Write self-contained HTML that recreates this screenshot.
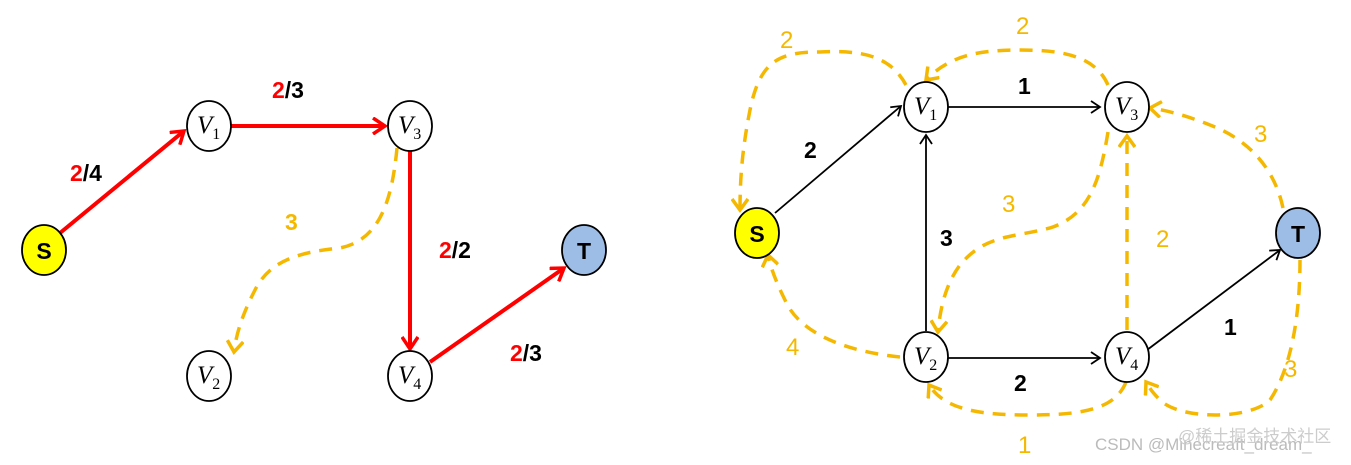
<!DOCTYPE html><html><head><meta charset="utf-8"><style>body{margin:0;background:#fff}svg{display:block}</style></head><body>
<svg width="1351" height="465" viewBox="0 0 1351 465" xmlns="http://www.w3.org/2000/svg">
<defs>
<marker id="ar" markerWidth="16" markerHeight="18" refX="13" refY="9" orient="auto" markerUnits="userSpaceOnUse"><path d="M1,1 L13,9 L1,17" fill="none" stroke="#f00" stroke-width="3.5"/></marker>
<marker id="ab" markerWidth="12" markerHeight="14" refX="10" refY="7" orient="auto" markerUnits="userSpaceOnUse"><path d="M1,1 L10,7 L1,13" fill="none" stroke="#000" stroke-width="1.8"/></marker>
<marker id="ay" markerWidth="16" markerHeight="18" refX="12" refY="9" orient="auto" markerUnits="userSpaceOnUse"><path d="M1,1 L12,9 L1,17" fill="none" stroke="#f5b800" stroke-width="3.5"/></marker>
</defs>
<g font-family="Liberation Sans, sans-serif" font-weight="bold" font-size="23">
<g stroke="#f00" stroke-width="4" fill="none">
<line x1="60" y1="233" x2="184" y2="131" marker-end="url(#ar)"/>
<line x1="231" y1="126" x2="385" y2="126" marker-end="url(#ar)"/>
<line x1="410" y1="151" x2="410" y2="349" marker-end="url(#ar)"/>
<line x1="430" y1="362" x2="564" y2="268" marker-end="url(#ar)"/>
</g>
<path d="M397,148 C392,200 380,240 340,248 C300,252 270,260 255,290 C242,315 236,335 234,352" stroke="#f5b800" stroke-width="3.5" fill="none" stroke-dasharray="13,9" marker-end="url(#ay)"/>
<text x="70" y="181" fill="#f00">2<tspan fill="#000">/4</tspan></text>
<text x="272" y="98" fill="#f00">2<tspan fill="#000">/3</tspan></text>
<text x="439" y="258" fill="#f00">2<tspan fill="#000">/2</tspan></text>
<text x="510" y="361" fill="#f00">2<tspan fill="#000">/3</tspan></text>
<text x="285" y="230" fill="#f5b800">3</text>
<g stroke="#000" stroke-width="1.8" fill="none">
<line x1="775" y1="213" x2="901" y2="106" marker-end="url(#ab)"/>
<line x1="948" y1="107" x2="1100" y2="107" marker-end="url(#ab)"/>
<line x1="926" y1="331" x2="926" y2="135" marker-end="url(#ab)"/>
<line x1="948" y1="358" x2="1100" y2="358" marker-end="url(#ab)"/>
<line x1="1147" y1="350" x2="1280" y2="250" marker-end="url(#ab)"/>
</g>
<g stroke="#f5b800" stroke-width="3.5" fill="none" stroke-dasharray="13,9">
<path d="M906,85 C890,55 860,50 820,52 C780,52 760,60 750,110 C742,150 740,180 740,210" marker-end="url(#ay)"/>
<path d="M1108,85 C1095,55 1060,50 1020,50 C980,50 950,55 926,80" marker-end="url(#ay)"/>
<path d="M1108,132 C1100,180 1090,215 1050,228 C1010,238 985,235 960,265 C945,285 940,310 938,332" marker-end="url(#ay)"/>
<path d="M1127,330 L1127,136" marker-end="url(#ay)"/>
<path d="M1283,208 C1275,170 1250,140 1210,125 C1185,115 1165,110 1150,108" marker-end="url(#ay)"/>
<path d="M900,357 C850,352 800,335 785,300 C775,280 770,265 768,255" marker-end="url(#ay)"/>
<path d="M1126,382 C1115,410 1080,415 1030,415 C980,415 945,410 929,385" marker-end="url(#ay)"/>
<path d="M1300,260 C1300,320 1290,370 1270,400 C1250,420 1180,420 1160,400 C1150,390 1148,385 1146,382" marker-end="url(#ay)"/>
</g>
<g fill="#f5b800" font-weight="normal" font-size="24">
<text x="780" y="48">2</text><text x="1016" y="34">2</text><text x="1002" y="212">3</text>
<text x="1156" y="247">2</text><text x="1254" y="142">3</text><text x="786" y="355">4</text>
<text x="1018" y="453">1</text><text x="1284" y="377">3</text>
</g>
<g fill="#000"><text x="804" y="158">2</text><text x="1018" y="94">1</text><text x="940" y="246">3</text><text x="1014" y="391">2</text><text x="1224" y="335">1</text></g>
<g stroke="#000" stroke-width="1.8">
<ellipse cx="44" cy="250" rx="22" ry="25" fill="#ffff00"/>
<ellipse cx="584" cy="250" rx="22" ry="25" fill="#9dbde6"/>
<ellipse cx="757" cy="233" rx="22" ry="25" fill="#ffff00"/>
<ellipse cx="1298" cy="233" rx="22" ry="25" fill="#9dbde6"/>
<g fill="#fff">
<ellipse cx="209" cy="126" rx="22" ry="25"/><ellipse cx="410" cy="126" rx="22" ry="25"/>
<ellipse cx="209" cy="376" rx="22" ry="25"/><ellipse cx="410" cy="376" rx="22" ry="25"/>
<ellipse cx="926" cy="107" rx="22" ry="25"/><ellipse cx="1127" cy="107" rx="22" ry="25"/>
<ellipse cx="926" cy="357" rx="22" ry="25"/><ellipse cx="1127" cy="357" rx="22" ry="25"/>
</g></g>
<g text-anchor="middle"><text x="44" y="259">S</text><text x="584" y="259">T</text><text x="757" y="242">S</text><text x="1298" y="242">T</text></g>
</g>
<g font-family="Liberation Serif, serif" font-style="italic" font-size="25" fill="#000">
<text x="197" y="133">V<tspan font-size="16" font-style="normal" dy="6">1</tspan></text>
<text x="398" y="133">V<tspan font-size="16" font-style="normal" dy="6">3</tspan></text>
<text x="197" y="383">V<tspan font-size="16" font-style="normal" dy="6">2</tspan></text>
<text x="398" y="383">V<tspan font-size="16" font-style="normal" dy="6">4</tspan></text>
<text x="914" y="114">V<tspan font-size="16" font-style="normal" dy="6">1</tspan></text>
<text x="1115" y="114">V<tspan font-size="16" font-style="normal" dy="6">3</tspan></text>
<text x="914" y="364">V<tspan font-size="16" font-style="normal" dy="6">2</tspan></text>
<text x="1115" y="364">V<tspan font-size="16" font-style="normal" dy="6">4</tspan></text>
</g>
<text x="1095" y="450" font-family="Liberation Sans, 'Noto Sans CJK SC', sans-serif" font-size="17" fill="#bbb">CSDN @Minecreaft_dream_</text>
<text x="1178" y="442" font-family="Liberation Sans, 'Noto Sans CJK SC', sans-serif" font-size="17" fill="#ccc">@稀土掘金技术社区</text>
</svg>
</body></html>
